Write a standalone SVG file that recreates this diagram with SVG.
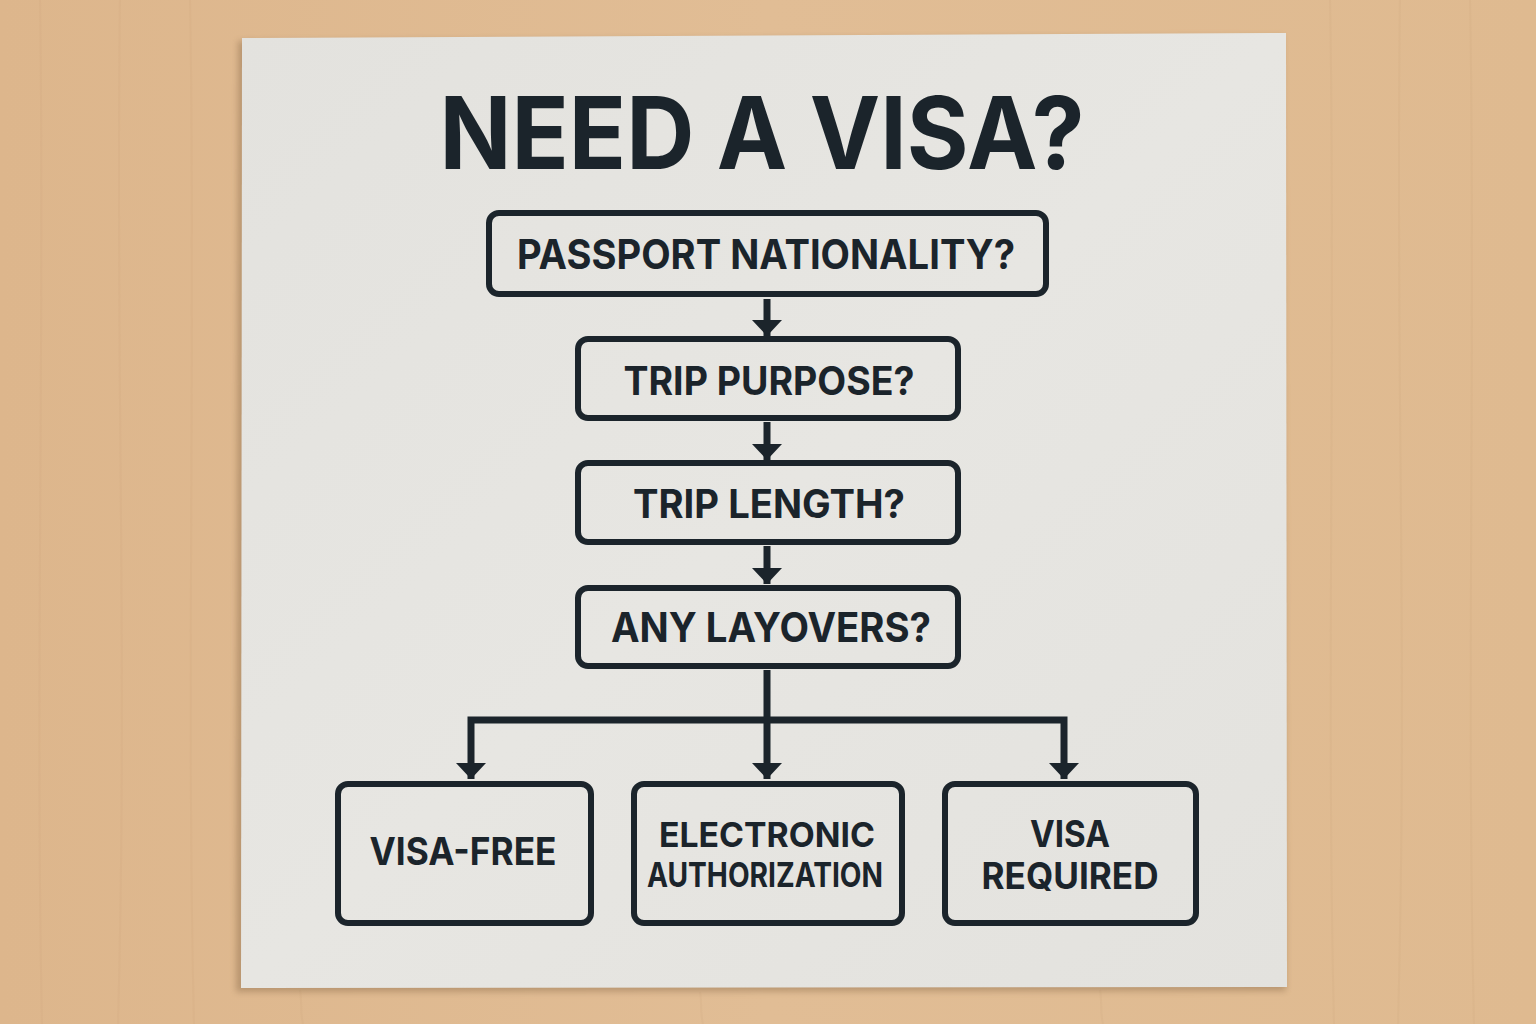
<svg xmlns="http://www.w3.org/2000/svg" width="1536" height="1024" viewBox="0 0 1536 1024">
  <defs>
    <linearGradient id="wood" x1="0" y1="0" x2="1" y2="0">
      <stop offset="0" stop-color="#ddb68c"/>
      <stop offset="0.5" stop-color="#e1bd95"/>
      <stop offset="1" stop-color="#dfba90"/>
    </linearGradient>
    <linearGradient id="board" x1="0" y1="0" x2="1" y2="1">
      <stop offset="0" stop-color="#e3e2de"/>
      <stop offset="0.5" stop-color="#e7e6e2"/>
      <stop offset="1" stop-color="#e3e2de"/>
    </linearGradient>
    <filter id="shadow" x="-5%" y="-5%" width="110%" height="110%">
      <feGaussianBlur stdDeviation="3"/>
    </filter>
    <marker id="arrow" markerUnits="userSpaceOnUse" markerWidth="18" markerHeight="32" refX="16" refY="15" orient="auto" viewBox="0 0 18 32">
      <path d="M0,0 L16,15 L0,30 Z" fill="#1b242b"/>
    </marker>
    <style>
      .box { fill: none; stroke: #1b242b; stroke-width: 6; }
      .lbl { font-family: Inter, "Liberation Sans", sans-serif; font-weight: 700; fill: #1b242b; text-anchor: middle; }
      .con { fill: none; stroke: #1b242b; stroke-width: 7; stroke-linejoin: miter; stroke-linecap: butt; }
    </style>
  </defs>

  <!-- wood background -->
  <rect x="0" y="0" width="1536" height="1024" fill="url(#wood)"/>
  <g stroke="#c9a078" stroke-opacity="0.15" stroke-width="2" fill="none">
    <path d="M40,0 C45,300 35,700 42,1024"/>
    <path d="M120,0 C115,350 128,650 118,1024"/>
    <path d="M190,0 C196,300 186,700 194,1024"/>
    <path d="M1330,0 C1336,300 1326,700 1334,1024"/>
    <path d="M1400,0 C1395,350 1408,650 1398,1024"/>
    <path d="M1470,0 C1476,300 1466,700 1474,1024"/>
    <path d="M300,990 C302,1000 300,1012 303,1024"/>
    <path d="M700,992 C702,1002 700,1012 703,1024"/>
    <path d="M1100,990 C1102,1000 1100,1012 1103,1024"/>
  </g>

  <!-- board -->
  <polygon points="238,41 1283,36 1286,991 236,992" fill="#8a6a4a" opacity="0.45" filter="url(#shadow)"/>
  <polygon points="242,38 1286,33 1287,987 241,988" fill="url(#board)"/>

  <!-- title -->
  <text x="762" y="169" class="lbl" font-size="100" font-weight="900" textLength="645" lengthAdjust="spacingAndGlyphs">NEED A VISA?</text>

  <!-- connectors -->
  <g id="connectors">
    <path class="con" d="M767,299 V336" marker-end="url(#arrow)"/>
    <path class="con" d="M767,422 V460" marker-end="url(#arrow)"/>
    <path class="con" d="M767,546 V584" marker-end="url(#arrow)"/>
    <path class="con" d="M767,670 V779" marker-end="url(#arrow)"/>
    <path class="con" d="M767,720 H471 V779" marker-end="url(#arrow)"/>
    <path class="con" d="M767,720 H1064 V779" marker-end="url(#arrow)"/>
  </g>

  <!-- nodes -->
  <g id="node-passport">
    <rect class="box" x="489" y="213" width="557" height="81" rx="10"/>
    <text class="lbl" x="766" y="269" font-size="41" textLength="498" lengthAdjust="spacingAndGlyphs">PASSPORT NATIONALITY?</text>
  </g>
  <g id="node-purpose">
    <rect class="box" x="578" y="339" width="380" height="79" rx="10"/>
    <text class="lbl" x="769" y="395" font-size="39" textLength="291" lengthAdjust="spacingAndGlyphs">TRIP PURPOSE?</text>
  </g>
  <g id="node-length">
    <rect class="box" x="578" y="463" width="380" height="79" rx="10"/>
    <text class="lbl" x="769" y="518" font-size="39" textLength="272" lengthAdjust="spacingAndGlyphs">TRIP LENGTH?</text>
  </g>
  <g id="node-layovers">
    <rect class="box" x="578" y="588" width="380" height="78" rx="10"/>
    <text class="lbl" x="771" y="642" font-size="41" textLength="320" lengthAdjust="spacingAndGlyphs">ANY LAYOVERS?</text>
  </g>
  <g id="node-visa-free">
    <rect class="box" x="338" y="784" width="253" height="139" rx="10"/>
    <text class="lbl" x="463" y="865" font-size="38" textLength="187" lengthAdjust="spacingAndGlyphs">VISA-FREE</text>
  </g>
  <g id="node-electronic">
    <rect class="box" x="634" y="784" width="268" height="139" rx="10"/>
    <text class="lbl" x="767" y="847" font-size="34" textLength="216" lengthAdjust="spacingAndGlyphs">ELECTRONIC</text>
    <text class="lbl" x="765" y="887" font-size="34" textLength="236" lengthAdjust="spacingAndGlyphs">AUTHORIZATION</text>
  </g>
  <g id="node-visa-required">
    <rect class="box" x="945" y="784" width="251" height="139" rx="10"/>
    <text class="lbl" x="1070" y="847" font-size="37" textLength="80" lengthAdjust="spacingAndGlyphs">VISA</text>
    <text class="lbl" x="1070" y="889" font-size="37" textLength="177" lengthAdjust="spacingAndGlyphs">REQUIRED</text>
  </g>
</svg>
